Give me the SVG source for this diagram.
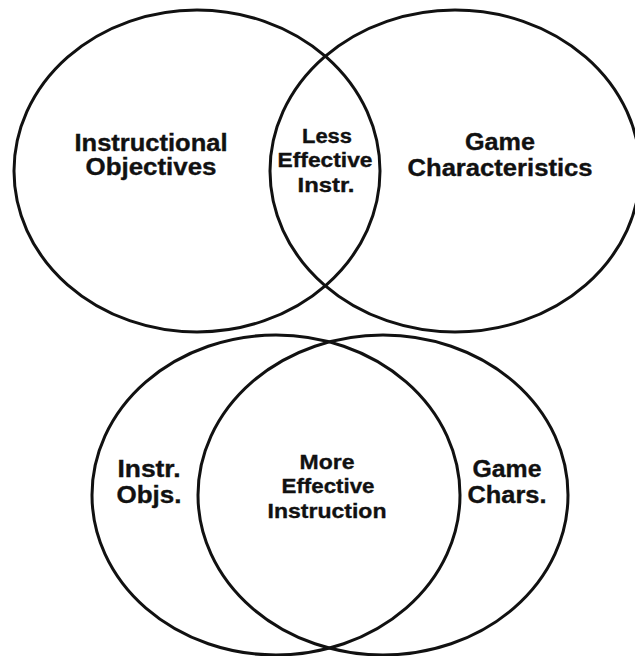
<svg xmlns="http://www.w3.org/2000/svg" width="635" height="656" viewBox="0 0 635 656">
  <style>
    .ring { fill: none; stroke: #111; stroke-width: 3; }
    .lbl { font-family: "Liberation Sans", Arial, sans-serif; font-weight: bold; fill: #111; stroke: #111; stroke-width: 0.35; text-anchor: middle; }
    .big { font-size: 23px; }
    .mid { font-size: 21px; }
    .small { font-size: 20px; }
  </style>
  <rect width="635" height="656" fill="#fff"/>

  <!-- Upper pair: small overlap -->
  <g id="instructional-objectives">
    <ellipse class="ring" cx="197" cy="171" rx="183" ry="161"/>
    <text class="lbl big" x="151" y="151" textLength="153" lengthAdjust="spacingAndGlyphs">Instructional</text>
    <text class="lbl big" x="151" y="175" textLength="131" lengthAdjust="spacingAndGlyphs">Objectives</text>
  </g>
  <g id="game-characteristics">
    <ellipse class="ring" cx="455" cy="171" rx="185" ry="161"/>
    <text class="lbl big" x="500" y="150" textLength="70" lengthAdjust="spacingAndGlyphs">Game</text>
    <text class="lbl big" x="500" y="176" textLength="185" lengthAdjust="spacingAndGlyphs">Characteristics</text>
  </g>
  <g id="less-effective">
    <text class="lbl small" x="327" y="143" textLength="50" lengthAdjust="spacingAndGlyphs">Less</text>
    <text class="lbl small" x="325" y="167" textLength="95" lengthAdjust="spacingAndGlyphs">Effective</text>
    <text class="lbl small" x="326" y="192" textLength="57" lengthAdjust="spacingAndGlyphs">Instr.</text>
  </g>

  <!-- Lower pair: large overlap -->
  <g id="instr-objs">
    <ellipse class="ring" cx="276" cy="495" rx="184" ry="160"/>
    <text class="lbl big" x="149" y="477" textLength="63" lengthAdjust="spacingAndGlyphs">Instr.</text>
    <text class="lbl big" x="149" y="503" textLength="65" lengthAdjust="spacingAndGlyphs">Objs.</text>
  </g>
  <g id="game-chars">
    <ellipse class="ring" cx="383" cy="495" rx="185" ry="160"/>
    <text class="lbl big" x="507" y="477" textLength="69" lengthAdjust="spacingAndGlyphs">Game</text>
    <text class="lbl big" x="507" y="503" textLength="79" lengthAdjust="spacingAndGlyphs">Chars.</text>
  </g>
  <g id="more-effective">
    <text class="lbl mid" x="327" y="469" textLength="55" lengthAdjust="spacingAndGlyphs">More</text>
    <text class="lbl mid" x="328" y="493" textLength="93" lengthAdjust="spacingAndGlyphs">Effective</text>
    <text class="lbl mid" x="327" y="518" textLength="119" lengthAdjust="spacingAndGlyphs">Instruction</text>
  </g>
</svg>
